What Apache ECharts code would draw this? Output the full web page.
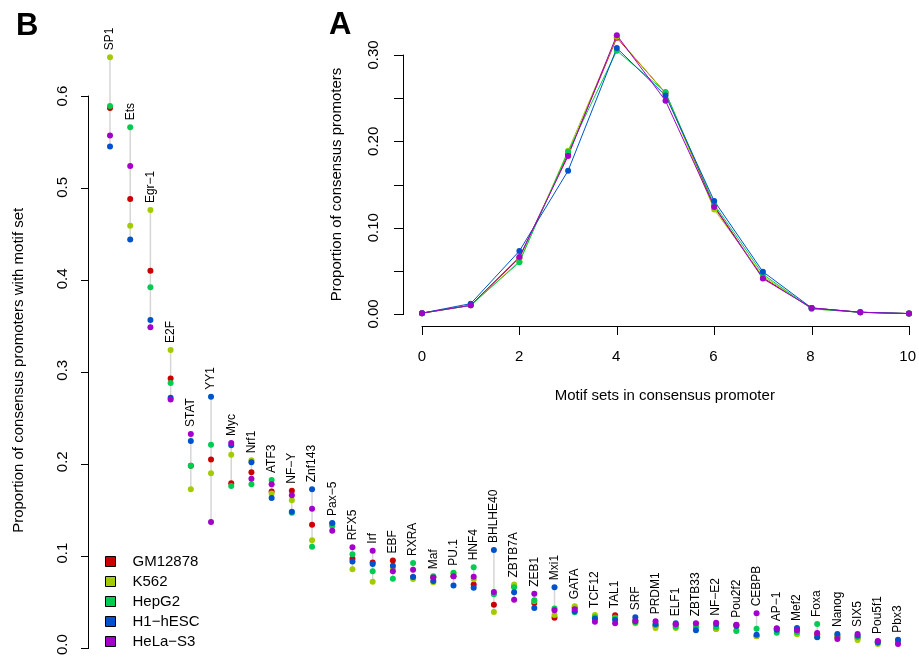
<!DOCTYPE html>
<html>
<head>
<meta charset="utf-8">
<script src="https://cdn.jsdelivr.net/npm/echarts@6/dist/echarts.min.js"></script>
<style>
  html, body { margin: 0; padding: 0; background: #fff; }
  #chart { width: 919px; height: 658px; }
</style>
</head>
<body>
<div id="chart"></div>
<script>
// panel B: motif sets, sorted by frequency
var motifs = ['SP1', 'Ets', 'Egr\u22121', 'E2F', 'STAT', 'YY1', 'Myc', 'Nrf1', 'ATF3', 'NF\u2212Y',
    'Znf143', 'Pax\u22125', 'RFX5', 'Irf', 'EBF', 'RXRA', 'Maf', 'PU.1', 'HNF4', 'BHLHE40',
    'ZBTB7A', 'ZEB1', 'Mxi1', 'GATA', 'TCF12', 'TAL1', 'SRF', 'PRDM1', 'ELF1', 'ZBTB33',
    'NF\u2212E2', 'Pou2f2', 'CEBPB', 'AP\u22121', 'Mef2', 'Foxa', 'Nanog', 'SIX5', 'Pou5f1', 'Pbx3'];

var cellLines = ['GM12878', 'K562', 'HepG2', 'H1\u2212hESC', 'HeLa\u2212S3'];
var cellColors = ['#CC0000', '#A3CC00', '#00CC52', '#0052CC', '#A300CC'];

var gm12878 = [0.587, 0.488, 0.410, 0.293, 0.198, 0.205, 0.179, 0.191, 0.170, 0.171,
    0.134, 0.135, 0.097, 0.093, 0.095, 0.077, 0.077, 0.078, 0.069, 0.047,
    0.067, 0.049, 0.033, 0.044, 0.033, 0.0355, 0.030, 0.024, 0.025, 0.026,
    0.021, 0.025, 0.013, 0.021, 0.020, 0.015, 0.012, 0.011, 0.007, 0.008];
var k562 = [0.642, 0.459, 0.476, 0.324, 0.1725, 0.190, 0.210, 0.204, 0.168, 0.1605,
    0.117, 0.134, 0.0855, 0.072, 0.087, 0.075, 0.0714, 0.081, 0.0747, 0.039,
    0.069, 0.051, 0.036, 0.0453, 0.036, 0.033, 0.0268, 0.0217, 0.0217, 0.0243,
    0.0207, 0.019, 0.0127, 0.019, 0.0149, 0.012, 0.012, 0.0087, 0.0043, 0.007];
var hepg2 = [0.589, 0.566, 0.392, 0.288, 0.198, 0.221, 0.176, 0.178, 0.1826, 0.147,
    0.110, 0.1326, 0.1018, 0.0833, 0.0754, 0.0924, 0.078, 0.0819, 0.0877, 0.0583,
    0.066, 0.0518, 0.043, 0.0388, 0.0333, 0.033, 0.028, 0.025, 0.023, 0.023,
    0.0228, 0.0185, 0.021, 0.0167, 0.017, 0.026, 0.014, 0.012, 0.006, 0.007];
var h1hesc = [0.545, 0.444, 0.3565, 0.272, 0.225, 0.273, 0.2203, 0.2018, 0.163, 0.148,
    0.1725, 0.136, 0.094, 0.0913, 0.0895, 0.0772, 0.0728, 0.0678, 0.0656, 0.1065,
    0.0605, 0.0435, 0.066, 0.040, 0.0319, 0.0304, 0.0333, 0.026, 0.0268, 0.0192,
    0.026, 0.024, 0.0145, 0.0199, 0.0217, 0.0116, 0.0152, 0.0135, 0.006, 0.009];
var helas3 = [0.557, 0.524, 0.3486, 0.270, 0.2326, 0.137, 0.2228, 0.184, 0.178, 0.166,
    0.1514, 0.1275, 0.1094, 0.1058, 0.0833, 0.0851, 0.0766, 0.078, 0.0775, 0.0609,
    0.0525, 0.059, 0.041, 0.042, 0.0286, 0.0268, 0.029, 0.029, 0.0258, 0.0268,
    0.0275, 0.0254, 0.0377, 0.0214, 0.0192, 0.0163, 0.0098, 0.0152, 0.0076, 0.0043];

// panel A: distribution of motif-set counts per promoter
var motifCounts = [0, 1, 2, 3, 4, 5, 6, 7, 8, 9, 10];
var gm12878A = [0.001, 0.010, 0.065, 0.185, 0.320, 0.256, 0.125, 0.042, 0.007, 0.002, 0.0005];
var k562A = [0.001, 0.010, 0.061, 0.189, 0.321, 0.256, 0.121, 0.044, 0.006, 0.002, 0.0005];
var hepg2A = [0.001, 0.010, 0.060, 0.188, 0.305, 0.257, 0.127, 0.046, 0.006, 0.002, 0.0005];
var h1hescA = [0.001, 0.012, 0.073, 0.166, 0.308, 0.253, 0.131, 0.049, 0.007, 0.002, 0.0005];
var helas3A = [0.001, 0.010, 0.066, 0.183, 0.323, 0.247, 0.124, 0.041, 0.007, 0.002, 0.0005];

// tick positions of the drawn axes
var ticksBy = [0, 0.1, 0.2, 0.3, 0.4, 0.5, 0.6];
var ticksAy = [0, 0.05, 0.10, 0.15, 0.20, 0.25, 0.30];
var ticksAx = [0, 2, 4, 6, 8, 10];

var FONT = 'Liberation Sans, Arial, sans-serif';
var seriesB = [gm12878, k562, hepg2, h1hesc, helas3];
var seriesA = [gm12878A, k562A, hepg2A, h1hescA, helas3A];

// vertical range segments for panel B
var ranges = motifs.map(function(m, i) {
    var vals = seriesB.map(function(s) { return s[i]; });
    return [i, Math.min.apply(null, vals), Math.max.apply(null, vals)];
});

var series = [{
    type: 'custom',
    xAxisIndex: 0,
    yAxisIndex: 0,
    z: 1,
    clip: false,
    silent: true,
    encode: { x: 0, y: [1, 2] },
    data: ranges,
    renderItem: function(params, api) {
        var i = api.value(0);
        var lo = api.coord([i, api.value(1)]);
        var hi = api.coord([i, api.value(2)]);
        return {
            type: 'group',
            children: [{
                type: 'line',
                shape: { x1: lo[0], y1: lo[1], x2: hi[0], y2: hi[1] },
                style: { stroke: '#d6d6d6', lineWidth: 1.5 }
            }, {
                type: 'text',
                x: hi[0],
                y: hi[1] - 7,
                rotation: Math.PI / 2,
                style: {
                    text: motifs[i],
                    font: '12px ' + FONT,
                    fill: '#000',
                    align: 'left',
                    verticalAlign: 'middle'
                }
            }]
        };
    }
}];

seriesB.forEach(function(vals, k) {
    series.push({
        name: cellLines[k],
        type: 'scatter',
        xAxisIndex: 0,
        yAxisIndex: 0,
        z: 2,
        clip: false,
        symbolSize: 6,
        itemStyle: { color: cellColors[k], opacity: 1 },
        data: vals.map(function(v, i) { return [i, v]; })
    });
});

seriesA.forEach(function(vals, k) {
    series.push({
        name: cellLines[k],
        type: 'line',
        xAxisIndex: 2,
        yAxisIndex: 2,
        z: 3,
        clip: false,
        symbol: 'circle',
        symbolSize: 6,
        lineStyle: { width: 1, color: cellColors[k] },
        itemStyle: { color: cellColors[k], opacity: 1 },
        data: vals.map(function(v, i) { return [motifCounts[i], v]; })
    });
});

function labelAxis() {
    return {
        axisLine: { show: true, onZero: true, lineStyle: { color: '#000', width: 1 } },
        axisTick: { show: false },
        splitLine: { show: false },
        nameTextStyle: { color: '#000', fontSize: 15, fontFamily: FONT }
    };
}

var chart = echarts.init(document.getElementById('chart'));
chart.setOption({
    animation: false,
    backgroundColor: '#fff',
    title: [
        { text: 'B', left: 11, top: 6, textStyle: { fontSize: 31, fontWeight: 'bold', fontFamily: FONT, color: '#000' } },
        { text: 'A', left: 324, top: 5, textStyle: { fontSize: 31, fontWeight: 'bold', fontFamily: FONT, color: '#000' } }
    ],
    legend: {
        data: cellLines,
        orient: 'vertical',
        left: 100,
        top: 549,
        icon: 'rect',
        itemWidth: 10,
        itemHeight: 10,
        itemGap: 5,
        itemStyle: { borderColor: '#000', borderWidth: 1 },
        textStyle: { fontSize: 15, fontFamily: FONT, color: '#000', padding: [0, 0, 0, 12] }
    },
    grid: [
        { left: 110, right: 21, top: 96, bottom: 10 },   // B data
        { left: 88, right: 21, top: 96, bottom: 10 },    // B y labels
        { left: 422, right: 10, top: 55, bottom: 344 },  // A data
        { left: 403, right: 10, top: 55, bottom: 344 },  // A y labels
        { left: 422, right: 10, top: 55, bottom: 332 }   // A x labels
    ],
    xAxis: [
        { type: 'category', gridIndex: 0, data: motifs, boundaryGap: false, show: false },
        { type: 'value', gridIndex: 1, min: 0, max: 1, show: false },
        { type: 'value', gridIndex: 2, min: 0, max: 10, show: false },
        { type: 'value', gridIndex: 3, min: 0, max: 1, show: false },
        Object.assign(labelAxis(), {
            type: 'value',
            gridIndex: 4,
            min: 0,
            max: 10,
            interval: 2,
            name: 'Motif sets in consensus promoter',
            nameLocation: 'middle',
            nameGap: 62,
            axisLabel: { color: '#000', fontSize: 15, fontFamily: FONT, margin: 23 }
        })
    ],
    yAxis: [
        { type: 'value', gridIndex: 0, min: 0, max: 0.6, show: false },
        Object.assign(labelAxis(), {
            type: 'value',
            gridIndex: 1,
            min: 0,
            max: 0.6,
            interval: 0.1,
            name: 'Proportion of consensus promoters with motif set',
            nameLocation: 'middle',
            nameGap: 62,
            axisLabel: {
                color: '#000', fontSize: 15, fontFamily: FONT, rotate: 90, margin: 18,
                formatter: function(v) { return v.toFixed(1); }
            }
        }),
        { type: 'value', gridIndex: 2, min: 0, max: 0.3, show: false },
        Object.assign(labelAxis(), {
            type: 'value',
            gridIndex: 3,
            min: 0,
            max: 0.3,
            interval: 0.05,
            name: 'Proportion of consensus promoters',
            nameLocation: 'middle',
            nameGap: 59,
            axisLabel: {
                color: '#000', fontSize: 15, fontFamily: FONT, rotate: 90, margin: 22,
                formatter: function(v) {
                    var r = Math.round(v * 100);
                    return r % 10 === 0 ? v.toFixed(2) : '';
                }
            }
        }),
        { type: 'value', gridIndex: 4, min: 0, max: 1, show: false }
    ],
    series: series
});

// R style axis line + ticks as thin filled rects, spanning only the tick range
// and set off from the plot region by `gap` px; positions go through the data scales
function axisGraphics(gridIndex, dim, ticks, tickLen, gap) {
    var els = [];
    var pts = ticks.map(function(t) {
        return chart.convertToPixel({ gridIndex: gridIndex }, dim === 'y' ? [0, t] : [t, 0]);
    });
    function bar(x, y, w, h) {
        els.push({
            type: 'rect', z: 100, zlevel: 1, silent: true,
            shape: { x: x, y: y, width: w, height: h },
            style: { fill: '#000' }
        });
    }
    pts.forEach(function(p) {
        if (dim === 'y') {
            bar(Math.round(p[0] - gap) - tickLen, Math.round(p[1]), tickLen + 1, 1);
        } else {
            bar(Math.round(p[0]), Math.round(p[1] + gap), 1, tickLen);
        }
    });
    var a = pts[0], b = pts[pts.length - 1];
    if (dim === 'y') {
        bar(Math.round(a[0] - gap), Math.round(b[1]), 1, Math.round(a[1]) - Math.round(b[1]) + 1);
    } else {
        bar(Math.round(a[0]), Math.round(a[1] + gap), Math.round(b[0]) - Math.round(a[0]) + 1, 1);
    }
    return els;
}

chart.setOption({
    graphic: [].concat(
        axisGraphics(0, 'y', ticksBy, 7, 22),
        axisGraphics(2, 'y', ticksAy, 9, 19),
        axisGraphics(2, 'x', ticksAx, 9, 12)
    )
});
</script>
</body>
</html>
